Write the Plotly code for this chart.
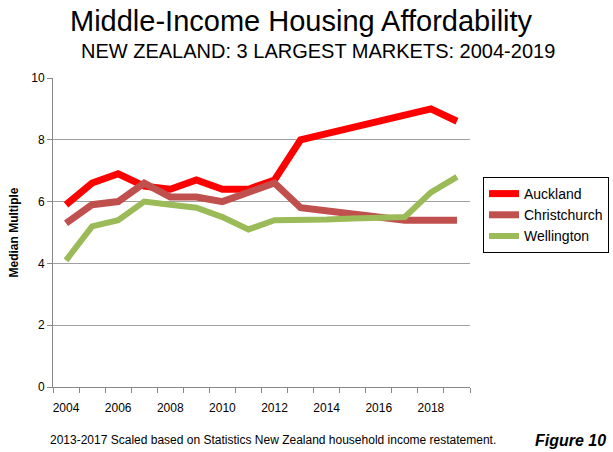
import plotly.graph_objects as go

years = list(range(2004, 2020))
auckland = [5.9, 6.6, 6.9, 6.5, 6.4, 6.7, 6.4, 6.4, 6.7, 8.0, 8.2, 8.4, 8.6, 8.8, 9.0, 8.6]
christchurch = [5.3, 5.9, 6.0, 6.6, 6.15, 6.15, 6.0, 6.3, 6.6, 5.8, 5.7, 5.6, 5.5, 5.4, 5.4, 5.4]
wellington = [4.1, 5.2, 5.4, 6.0, 5.9, 5.8, 5.5, 5.1, 5.4, 5.4, 5.42, 5.45, 5.48, 5.5, 6.3, 6.8]
tick_years = [2004, 2006, 2008, 2010, 2012, 2014, 2016, 2018]
y_ticks = [0, 2, 4, 6, 8, 10]

series = [
    ("Auckland", auckland, "#FF0000", 7),
    ("Christchurch", christchurch, "#C0504D", 7),
    ("Wellington", wellington, "#9BBB59", 6),
]

fig = go.Figure()
for name, vals, color, w in series:
    fig.add_trace(go.Scatter(x=years, y=vals, mode="lines", name=name,
                             line=dict(color=color, width=w)))

font = "Liberation Sans, Arial, sans-serif"
L, R, T, B = 53, 143, 78, 65
pw, ph = 613 - L - R, 452 - T - B
def px(x): return (x - L) / pw
def py(y): return (452 - B - y) / ph

fig.update_layout(
    width=613, height=452,
    margin=dict(l=L, r=R, t=T, b=B, autoexpand=False),
    paper_bgcolor="white", plot_bgcolor="white",
    font=dict(family=font, color="black"),
    showlegend=True,
    legend=dict(x=px(483), y=py(177), xanchor="left", yanchor="top",
                bordercolor="black", borderwidth=1, bgcolor="white",
                font=dict(size=14, family=font),
                tracegroupgap=1, itemwidth=30),
    xaxis=dict(range=[2003.5, 2019.5], tickvals=tick_years,
               ticktext=[str(t) for t in tick_years], ticks="",
               tickfont=dict(size=12), showgrid=False, ticklabelstandoff=10,
               showline=True, linecolor="#888888", linewidth=1,
               zeroline=False,
               minor=dict(tick0=2003.5, dtick=1, ticks="outside", ticklen=5,
                          tickcolor="#888888", showgrid=False)),
    yaxis=dict(range=[0, 10], tickvals=y_ticks, ticks="outside", ticklen=5,
               tickcolor="#888888", tickfont=dict(size=12),
               showgrid=True, gridcolor="#A0A0A0", gridwidth=1,
               showline=True, linecolor="#888888", linewidth=1, zeroline=False,
               title=dict(text="<b>Median Multiple</b>", font=dict(size=12), standoff=10)),
    annotations=[
        dict(text="Middle-Income Housing Affordability", x=px(301), y=py(21),
             xref="paper", yref="paper", xanchor="center", yanchor="middle",
             showarrow=False, font=dict(size=29)),
        dict(text="NEW ZEALAND: 3 LARGEST MARKETS: 2004-2019", x=px(318), y=py(51),
             xref="paper", yref="paper", xanchor="center", yanchor="middle",
             showarrow=False, font=dict(size=20)),
        dict(text="2013-2017 Scaled based on Statistics New Zealand household income restatement.",
             x=px(273), y=py(440), xref="paper", yref="paper",
             xanchor="center", yanchor="middle", showarrow=False,
             font=dict(size=12)),
        dict(text="<b><i>Figure 10</i></b>", x=px(608), y=py(440),
             xref="paper", yref="paper", xanchor="right", yanchor="middle",
             showarrow=False, font=dict(size=16)),
    ],
)

fig.write_html("out.html", config={"displayModeBar": False},
               post_script="document.body.style.margin='0';document.body.style.padding='0';")
